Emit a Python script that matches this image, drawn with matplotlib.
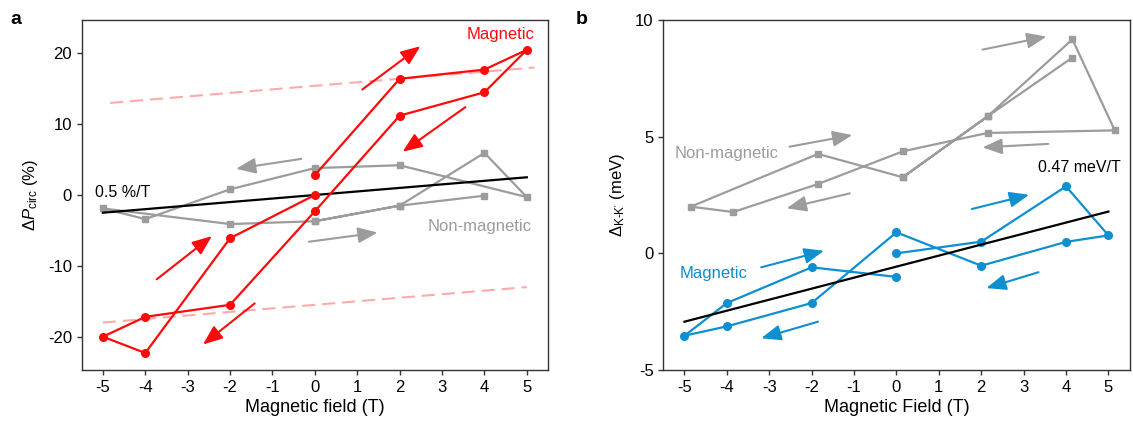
import matplotlib
matplotlib.use("Agg")
import matplotlib.pyplot as plt

plt.rcParams["font.family"] = ["Liberation Sans", "DejaVu Sans"]
plt.rcParams["mathtext.fontset"] = "custom"
plt.rcParams["mathtext.rm"] = "Liberation Sans"
plt.rcParams["mathtext.it"] = "Liberation Sans:italic"
plt.rcParams["axes.unicode_minus"] = False

# ---- panel a: circular polarisation difference ----
a_mag_x = [0, 2, 4, 5, 4, 2, 0, -2, -4, -5, -4, -2, 0]
a_mag_y = [2.8, 16.4, 17.7, 20.5, 14.5, 11.2, -2.3, -15.5, -17.2, -20.0, -22.3, -6.1, 0.0]

a_non_x = [0, 2, 4, 5, 2, 0, -2, -4, -5, -2, 0, 2, 4]
a_non_y = [-3.7, -1.5, 5.95, -0.3, 4.2, 3.8, 0.8, -3.4, -1.9, -4.1, -3.7, -1.5, -0.1]

a_fit_x = [-5, 5]
a_fit_y = [-2.5, 2.5]

a_dash_up_x = [-4.83, 5.18]
a_dash_up_y = [13.0, 18.0]
a_dash_lo_x = [-5, 5]
a_dash_lo_y = [-18.0, -13.0]

# arrows: (tail x, tail y, head x, head y)
a_red_arrows = [(1.12, 14.9, 2.49, 21.0), (3.55, 12.4, 2.07, 6.1),
                (-3.73, -11.9, -2.43, -5.8), (-1.42, -15.3, -2.64, -21.1)]
a_gray_arrows = [(-0.32, 5.1, -1.86, 3.7), (-0.14, -6.6, 1.48, -5.3)]

# ---- panel b: valley splitting ----
b_non_x = [0.15, 2.15, 4.15, 5.15, 2.15, 0.15, -1.85, -3.85, -4.85, -1.85, 0.15, 2.15, 4.15]
b_non_y = [3.26, 5.87, 9.17, 5.27, 5.16, 4.37, 2.97, 1.77, 2.0, 4.26, 3.26, 5.87, 8.39]

b_mag_x = [0, 2, 4, 5, 4, 2, 0, -2, -4, -5, -4, -2, 0]
b_mag_y = [0.0, 0.5, 2.87, 0.77, 0.49, -0.53, 0.9, -2.13, -3.13, -3.53, -2.13, -0.6, -1.01]

b_fit_x = [-5, 5]
b_fit_y = [-2.93, 1.79]

b_gray_arrows = [(2.03, 8.73, 3.54, 9.29), (3.58, 4.69, 2.03, 4.54),
                 (-2.52, 4.57, -1.04, 5.07), (-1.1, 2.57, -2.59, 1.93)]
b_blue_arrows = [(1.78, 1.9, 3.13, 2.51), (3.35, -0.81, 2.12, -1.49),
                 (-3.19, -0.6, -1.71, 0.11), (-1.85, -2.93, -3.19, -3.64)]

xticks = [-5, -4, -3, -2, -1, 0, 1, 2, 3, 4, 5]

RED = "#ff0a0a"
GRAY = "#9c9c9c"
BLUE = "#0d8fd0"
PINK = "#ffaaaa"


def arrows(ax, lst, color):
    for tx, ty, hx, hy in lst:
        ax.annotate("", xy=(hx, hy), xytext=(tx, ty),
                    arrowprops=dict(arrowstyle="-|>,head_length=0.85,head_width=0.34",
                                    color=color, lw=1.5, mutation_scale=14,
                                    shrinkA=0, shrinkB=0))


def style(ax):
    for s in ax.spines.values():
        s.set_color("#333333")
        s.set_linewidth(1.0)
    ax.tick_params(direction="out", length=3.5, width=1, colors="#333333",
                   labelcolor="black", labelsize=12)
    ax.set_xticks(xticks)
    ax.set_xlim(-5.5, 5.5)


fig = plt.figure(figsize=(11.33, 4.23), dpi=100)
ax1 = fig.add_axes([0.0721, 0.1253, 0.4116, 0.8274])
ax2 = fig.add_axes([0.5854, 0.1253, 0.4116, 0.8274])

# panel a
ax1.plot(a_dash_up_x, a_dash_up_y, color=PINK, lw=1.5, dashes=(6.3, 3.3), zorder=1)
ax1.plot(a_dash_lo_x, a_dash_lo_y, color=PINK, lw=1.5, dashes=(6.3, 3.3), zorder=1)
ax1.plot(a_non_x, a_non_y, color=GRAY, lw=1.6, marker="s", ms=4.8, zorder=2)
ax1.plot(a_fit_x, a_fit_y, color="black", lw=1.6, zorder=3)
ax1.plot(a_mag_x, a_mag_y, color=RED, lw=1.6, marker="o", ms=5.5, zorder=4)
arrows(ax1, a_red_arrows, RED)
arrows(ax1, a_gray_arrows, GRAY)
ax1.text(5.18, 22.6, "Magnetic", color=RED, fontsize=12, ha="right", va="center")
ax1.text(5.12, -4.4, "Non-magnetic", color=GRAY, fontsize=12, ha="right", va="center")
ax1.text(-5.18, -0.25, "0.5 %/T", color="black", fontsize=11.5, ha="left", va="baseline")
style(ax1)
ax1.set_ylim(-24.7, 24.7)
ax1.set_yticks([-20, -10, 0, 10, 20])
ax1.set_xlabel("Magnetic field (T)", fontsize=13, labelpad=3)
ax1.set_ylabel(r"$\Delta\mathit{P}_{\mathrm{circ}}$ (%)", fontsize=12, labelpad=6)

# panel b
ax2.plot(b_non_x, b_non_y, color=GRAY, lw=1.6, marker="s", ms=4.8, zorder=2)
ax2.plot(b_mag_x, b_mag_y, color=BLUE, lw=1.6, marker="o", ms=5.5, zorder=3)
ax2.plot(b_fit_x, b_fit_y, color="black", lw=1.6, zorder=4)
arrows(ax2, b_gray_arrows, GRAY)
arrows(ax2, b_blue_arrows, BLUE)
ax2.text(-5.24, 4.29, "Non-magnetic", color=GRAY, fontsize=12, ha="left", va="center")
ax2.text(-5.12, -0.88, "Magnetic", color=BLUE, fontsize=12, ha="left", va="center")
ax2.text(3.34, 3.69, "0.47 meV/T", color="black", fontsize=11.5, ha="left", va="center")
style(ax2)
ax2.set_ylim(-5, 10)
ax2.set_yticks([-5, 0, 5, 10])
ax2.set_xlabel("Magnetic Field (T)", fontsize=13, labelpad=3)
ax2.set_ylabel(r"$\Delta_{\mathrm{K\text{-}K'}}$ (meV)", fontsize=12, labelpad=6)

fig.text(0.009, 0.955, "a", fontsize=14, fontweight="bold", va="center")
fig.text(0.508, 0.955, "b", fontsize=14, fontweight="bold", va="center")

fig.savefig("out.png", dpi=100)
